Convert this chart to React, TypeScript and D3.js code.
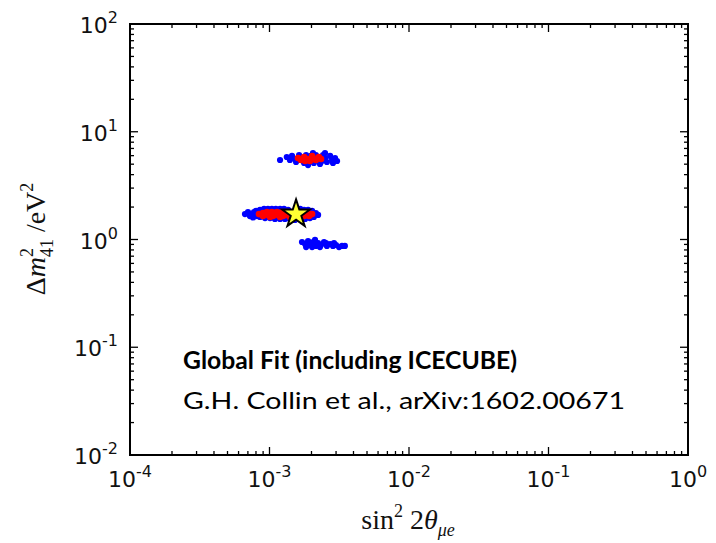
import React from 'react';
import * as d3 from 'd3';

// points (sin^2 2theta, dm^2)
const bluePoints: [number, number][] = [
  // upper island
  [1.19e-3, 5.47], [1.33e-3, 5.83], [1.40e-3, 5.47], [1.45e-3, 5.96], [1.52e-3, 5.58],
  [1.55e-3, 5.24], [1.63e-3, 6.08], [1.71e-3, 5.70], [1.77e-3, 5.13], [1.83e-3, 6.08],
  [1.92e-3, 5.35], [1.98e-3, 5.96], [2.08e-3, 5.13], [2.15e-3, 6.08], [2.23e-3, 5.58],
  [2.34e-3, 5.24], [2.42e-3, 6.08], [2.50e-3, 5.70], [2.58e-3, 5.24], [2.72e-3, 5.96],
  [2.81e-3, 5.47], [2.95e-3, 5.70], [3.05e-3, 5.35], [2.85e-3, 5.13], [1.66e-3, 5.47],
  [1.89e-3, 4.91], [2.30e-3, 5.02], [2.05e-3, 6.35], [2.50e-3, 6.35],
  // middle island
  [6.67e-4, 1.72], [7.01e-4, 1.80], [7.36e-4, 1.69], [7.74e-4, 1.80], [8.13e-4, 1.65],
  [8.00e-4, 1.84], [8.55e-4, 1.88], [9.14e-4, 1.92], [9.75e-4, 1.92], [1.04e-3, 1.92],
  [1.11e-3, 1.92], [1.19e-3, 1.92], [1.27e-3, 1.92], [1.36e-3, 1.88], [1.66e-3, 1.92],
  [1.77e-3, 1.88], [1.89e-3, 1.88], [2.02e-3, 1.84], [2.15e-3, 1.76], [2.23e-3, 1.69],
  [2.08e-3, 1.62], [1.95e-3, 1.58], [1.80e-3, 1.55], [1.66e-3, 1.55], [1.52e-3, 1.52],
  [1.40e-3, 1.55], [1.29e-3, 1.55], [1.19e-3, 1.55], [1.094e-3, 1.55], [1.009e-3, 1.58],
  [9.29e-4, 1.58], [8.55e-4, 1.62], [7.24e-4, 1.65], [7.62e-4, 1.60],
  // lower island
  [1.71e-3, 0.948], [1.80e-3, 0.908], [1.89e-3, 0.968], [1.95e-3, 0.889], [2.05e-3, 0.948],
  [2.15e-3, 0.871], [2.23e-3, 0.928], [2.34e-3, 0.889], [2.46e-3, 0.948], [2.58e-3, 0.871],
  [2.72e-3, 0.908], [2.85e-3, 0.871], [3.00e-3, 0.889], [3.15e-3, 0.851], [3.31e-3, 0.871],
  [3.47e-3, 0.871], [1.83e-3, 0.851], [2.02e-3, 0.851], [2.30e-3, 0.851], [2.54e-3, 0.928],
  [2.90e-3, 0.928], [2.12e-3, 0.99],
];

const redPoints: [number, number][] = [
  // upper island
  [1.60e-3, 5.70], [1.68e-3, 5.47], [1.77e-3, 5.83], [1.86e-3, 5.58], [1.95e-3, 5.35],
  [2.05e-3, 5.70], [2.15e-3, 5.47], [2.26e-3, 5.83], [2.34e-3, 5.58], [2.02e-3, 5.96],
  [1.80e-3, 5.35],
  // middle island
  [8.41e-4, 1.72], [8.98e-4, 1.76], [8.98e-4, 1.65], [9.59e-4, 1.80], [9.75e-4, 1.69],
  [1.04e-3, 1.80], [1.06e-3, 1.65], [1.13e-3, 1.80], [1.15e-3, 1.69], [1.23e-3, 1.80],
  [1.25e-3, 1.65], [1.33e-3, 1.80], [1.36e-3, 1.69], [1.45e-3, 1.76], [1.47e-3, 1.65],
  [1.60e-3, 1.80], [1.63e-3, 1.65], [1.74e-3, 1.76], [1.77e-3, 1.65], [1.89e-3, 1.76],
  [1.92e-3, 1.65], [2.02e-3, 1.72], [1.009e-3, 1.62], [1.19e-3, 1.62], [1.40e-3, 1.62],
];

const bestFit: [number, number] = [1.55e-3, 1.76];

const xDecades = [-4, -3, -2, -1, 0];
const yDecades = [-2, -1, 0, 1, 2];

const W = 716;
const H = 543;
const margin = { left: 130, right: 28, top: 24, bottom: 88 };

const sup = (n: number) => (
  <>
    10<tspan dy={-10} fontSize={16}>{n}</tspan>
  </>
);

export default function App() {
  const x = d3.scaleLog().domain([1e-4, 1]).range([margin.left, W - margin.right]);
  const y = d3.scaleLog().domain([1e-2, 1e2]).range([H - margin.bottom, margin.top]);
  const [x0, x1] = x.range();
  const [y0, y1] = y.range();

  const isMajor = (v: number) => Math.abs(Math.log10(v) - Math.round(Math.log10(v))) < 1e-6;
  const xt = x.ticks();
  const yt = y.ticks();

  const star = d3.symbol().type(d3.symbolStar).size(240)();

  return (
    <svg width={W} height={H} style={{ position: 'absolute', left: 0, top: 0, background: '#fff' }}>
      <g>
        {bluePoints.map(([a, b], i) => (
          <circle key={'b' + i} cx={x(a)} cy={y(b)} r={3.1} fill="#0000ff" />
        ))}
        {redPoints.map(([a, b], i) => (
          <circle key={'r' + i} cx={x(a)} cy={y(b)} r={3.3} fill="#ff0000" />
        ))}
        <path
          d={star || ''}
          transform={`translate(${x(bestFit[0])},${y(bestFit[1]) + 1})`}
          fill="#ffff33"
          stroke="#000"
          strokeWidth={2}
        />
      </g>

      {/* ticks, inward on all four sides */}
      <g stroke="#000" strokeWidth={1.3}>
        {xt.map((t, i) => {
          const len = isMajor(t) ? 8 : 4;
          return (
            <g key={'xt' + i}>
              <line x1={x(t)} x2={x(t)} y1={y0} y2={y0 - len} />
              <line x1={x(t)} x2={x(t)} y1={y1} y2={y1 + len} />
            </g>
          );
        })}
        {yt.map((t, i) => {
          const len = isMajor(t) ? 8 : 4;
          return (
            <g key={'yt' + i}>
              <line x1={x0} x2={x0 + len} y1={y(t)} y2={y(t)} />
              <line x1={x1} x2={x1 - len} y1={y(t)} y2={y(t)} />
            </g>
          );
        })}
      </g>
      <rect x={x0} y={y1} width={x1 - x0} height={y0 - y1} fill="none" stroke="#000" strokeWidth={2} />

      <g fontFamily="DejaVu Sans" fontSize={22} fill="#111">
        {xDecades.map((d) => (
          <text key={'xl' + d} x={x(Math.pow(10, d))} y={y0 + 32} textAnchor="middle">
            {sup(d)}
          </text>
        ))}
        {yDecades.map((d) => (
          <text key={'yl' + d} x={x0 - 12} y={y(Math.pow(10, d)) + 9} textAnchor="end">
            {sup(d)}
          </text>
        ))}
      </g>

      <text x={408} y={529} textAnchor="middle" fontFamily="Liberation Serif" fontSize={28} fill="#111">
        sin<tspan dy={-12} fontSize={18}>2</tspan>
        <tspan dy={12}> 2</tspan>
        <tspan fontStyle="italic">θ</tspan>
        <tspan dy={7} fontSize={18} fontStyle="italic">μe</tspan>
      </text>

      <text
        transform="translate(45,239) rotate(-90)"
        textAnchor="middle"
        fontFamily="Liberation Serif"
        fontSize={28}
        fill="#111"
      >
        Δ<tspan fontStyle="italic">m</tspan>
        <tspan dy={-12} fontSize={18}>2</tspan>
        <tspan dx={-9} dy={20} fontSize={18}>41</tspan>
        <tspan dy={-8}> /eV</tspan>
        <tspan dy={-12} fontSize={18}>2</tspan>
      </text>

      <text x={183} y={369} fontFamily="Lato" fontWeight="bold" fontSize={24} fill="#000"
        textLength={334} lengthAdjust="spacingAndGlyphs">
        Global Fit (including ICECUBE)
      </text>
      <text x={183} y={409} fontFamily="Lato" fontSize={24} fill="#000"
        textLength={442} lengthAdjust="spacingAndGlyphs">
        G.H. Collin et al., arXiv:1602.00671
      </text>
    </svg>
  );
}
